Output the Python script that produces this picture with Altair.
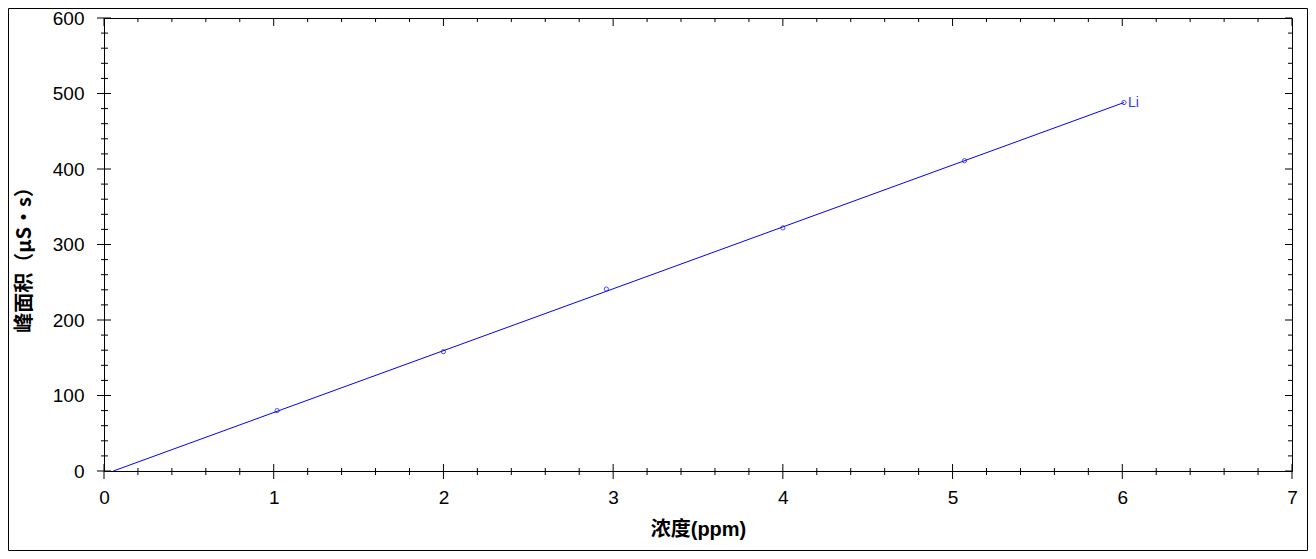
import altair as alt
import pandas as pd

# Calibration points
conc = [1.02, 2.00, 2.96, 4.00, 5.07, 6.01]
area = [80, 158, 241, 322, 411, 488]
series = ["Li", "Li", "Li", "Li", "Li", "Li"]

# Fitted calibration line end points
fit_x = [0.055, 6.01]
fit_y = [0, 488]

# Axis ticks
x_major = [0, 1, 2, 3, 4, 5, 6, 7]
x_minor = [round(i * 0.2, 2) for i in range(36) if i % 5 != 0]
y_major = [0, 100, 200, 300, 400, 500, 600]
y_minor = [v for v in range(0, 601, 20) if v % 100 != 0]

W, H = 1188, 453
TOP = 10
LATIN = "Liberation Sans, Arial, Noto Sans CJK SC"
CJK = "Noto Sans CJK SC, Liberation Sans"
BLUE = "#0000ff"

xs = alt.Scale(domain=[0, 7], nice=False, zero=False)
ys = alt.Scale(domain=[0, 600], nice=False, zero=False)

pts = pd.DataFrame({"x": conc, "y": area, "s": series})
fit = pd.DataFrame({"x": fit_x, "y": fit_y})
lab = pts.tail(1)

x_axis = alt.Axis(
    values=x_major, format="d", title="浓度(ppm)", grid=False, ticks=False,
    domain=False, labelFont=LATIN, labelFontSize=19, labelColor="black",
    labelPadding=17, labelFlush=False, labelOverlap=False,
    titleFont=LATIN, titleFontSize=20, titleFontWeight="bold", titleColor="black",
    titleX=594, titleY=58, titleBaseline="middle", titleAlign="center",
)
y_axis = alt.Axis(
    values=y_major, format="d", title="峰面积（μS·s）", grid=False, ticks=False,
    domain=False, labelFont=LATIN, labelFontSize=19, labelColor="black",
    labelPadding=20, labelFlush=False, labelOverlap=False,
    titleFont=CJK, titleFontSize=20, titleFontWeight="bold", titleColor="black",
    titleX=-80, titleY=H / 2 + 10, titleAngle=-90, titleBaseline="middle",
    titleAlign="center",
)

def X(field):
    return alt.X(field, scale=xs, axis=x_axis)

def Y(field):
    return alt.Y(field, scale=ys, axis=y_axis)

line = alt.Chart(fit).mark_line(color=BLUE, strokeWidth=1).encode(
    x=X("x:Q"), y=Y("y:Q"),
)
points = alt.Chart(pts).mark_point(
    shape="circle", filled=False, color=BLUE, size=18, strokeWidth=1
).encode(x=X("x:Q"), y=Y("y:Q"))
label = alt.Chart(lab).mark_text(
    align="left", baseline="middle", dx=4, font=LATIN, fontSize=14, color="#2a3cff"
).encode(x=X("x:Q"), y=Y("y:Q"), text="s:N")

def xticks(vals, y1, y2):
    return alt.Chart(pd.DataFrame({"x": vals})).mark_rule(color="black", strokeWidth=1).encode(
        x=X("x:Q"), y=alt.value(y1), y2=alt.value(y2)
    )

def yticks(vals, x1, x2):
    return alt.Chart(pd.DataFrame({"y": vals})).mark_rule(color="black", strokeWidth=1).encode(
        y=Y("y:Q"), x=alt.value(x1), x2=alt.value(x2)
    )

ticks = [
    xticks(x_major, H - 7, H + 8),
    xticks(x_minor, H - 3, H + 4),
    xticks(x_major, 0, 8),
    xticks(x_minor, 0, 4),
    yticks(y_major, -7, 7),
    yticks(y_minor, -3, 4),
    yticks(y_major, W - 7, W),
    yticks(y_minor, W - 4, W),
]

BOTTOM = 543 - TOP - H
border = alt.Chart(pd.DataFrame({"a": [0]})).mark_rect(
    fill=None, stroke="black", strokeWidth=1
).encode(
    x=alt.value(-95.5), x2=alt.value(W + 15.5),
    y=alt.value(-TOP + 0.5), y2=alt.value(H + BOTTOM - 0.5),
)

chart = alt.layer(line, *ticks, points, label, border).properties(
    width=W, height=H,
    autosize=alt.AutoSizeParams(type="none"),
    padding={"left": 96, "top": TOP, "right": 16, "bottom": BOTTOM},
    background="white",
).configure_view(stroke="black", strokeWidth=1)

chart.save("out.html", embed_options={"renderer": "svg", "actions": False})
